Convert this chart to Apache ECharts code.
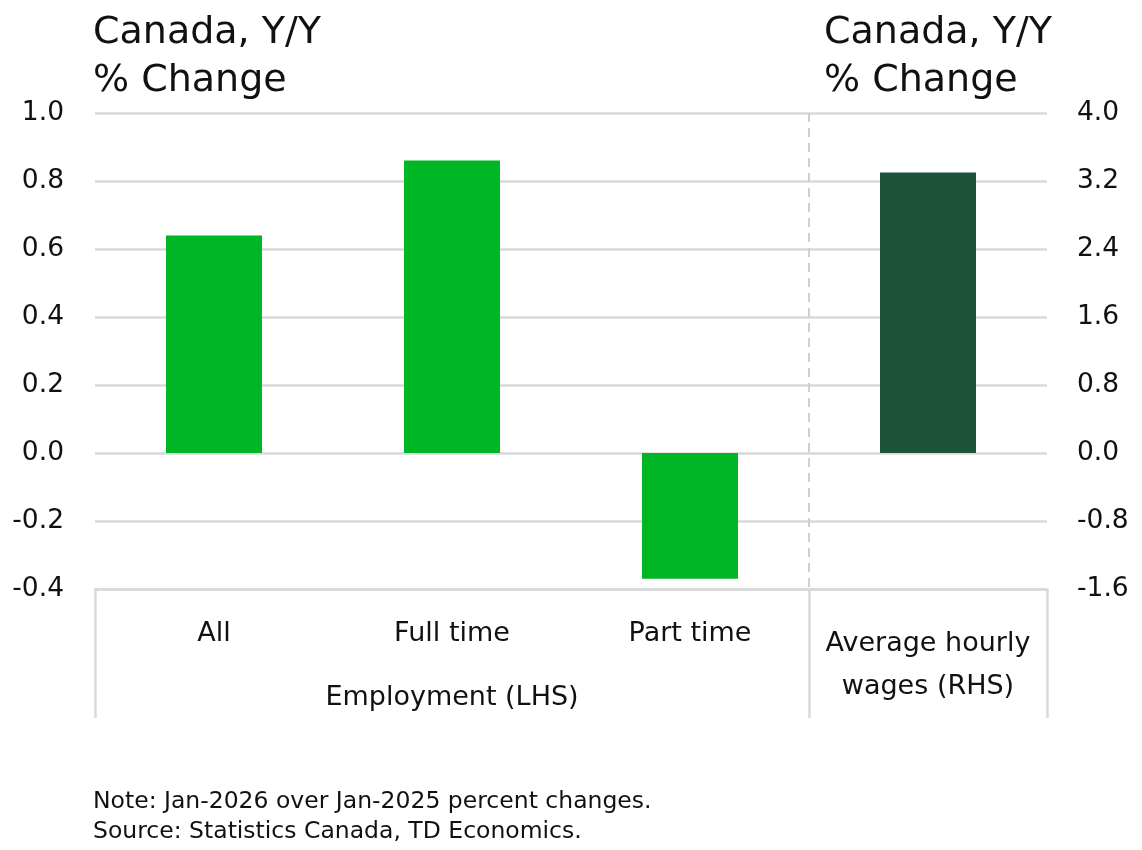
<!DOCTYPE html>
<html>
<head>
<meta charset="utf-8">
<script src="https://cdn.jsdelivr.net/npm/echarts@6/dist/echarts.min.js"></script>
<style>
  html, body { margin: 0; padding: 0; background: #fff; }
  #chart { width: 1142px; height: 850px; }
</style>
</head>
<body>
<div id="chart"></div>
<script>
// categories and values
const categories = ['All', 'Full time', 'Part time', 'Average hourly\nwages (RHS)'];
const groupLabels = ['', 'Employment (LHS)', '', ''];
const employment = [0.64, 0.86, -0.37, '-'];   // LHS, y/y %
const wages = ['-', '-', '-', 3.3];             // RHS, y/y %
const noteLines = ['Note: Jan-2026 over Jan-2025 percent changes.', 'Source: Statistics Canada, TD Economics.'];

const FONT = 'DejaVu Sans';
const GRID = '#d9d9d9';
const TXT = '#111';

let chart = echarts.init(document.getElementById('chart'));

chart.setOption({
    animation: false,
    textStyle: { fontFamily: FONT, color: TXT },
    title: [
        {
            text: 'Canada, Y/Y\n% Change',
            left: 88, top: 4,
            textStyle: { fontFamily: FONT, fontSize: 38, fontWeight: 'normal', color: TXT, lineHeight: 48 }
        },
        {
            text: 'Canada, Y/Y\n% Change',
            left: 819, top: 4,
            textStyle: { fontFamily: FONT, fontSize: 38, fontWeight: 'normal', color: TXT, lineHeight: 48 }
        },
        {
            text: noteLines.join('\n'),
            left: 88, top: 782,
            textStyle: { fontFamily: FONT, fontSize: 23.5, fontWeight: 'normal', color: TXT, lineHeight: 30 }
        }
    ],
    grid: { left: 95, right: 95, top: 113, bottom: 261, containLabel: false },
    xAxis: [
        {
            type: 'category',
            data: categories.map((c, i) => ({
                value: c,
                textStyle: { lineHeight: i < 3 ? 23 : 43 }
            })),
            axisLine: { onZero: false, lineStyle: { color: GRID, width: 2.5 } },
            axisTick: {
                show: true,
                length: 129,
                interval: (i) => i === 0 || i === 3,
                lineStyle: { color: GRID, width: 2.5 }
            },
            axisLabel: {
                interval: 0,
                margin: 33,
                fontSize: 27,
                color: TXT,
                fontFamily: FONT,
                verticalAlign: 'top'
            },
            splitLine: {
                show: true,
                interval: (i) => i === 0 || i === 3,
                lineStyle: { color: ['transparent', '#cfcfcf', 'transparent'], width: 2, type: [9, 6] }
            }
        },
        {
            type: 'category',
            position: 'bottom',
            data: groupLabels,
            axisLine: { show: false, onZero: false },
            axisTick: { show: false },
            splitLine: { show: false },
            axisLabel: {
                interval: 0,
                margin: 96,
                fontSize: 27,
                color: TXT,
                fontFamily: FONT,
                verticalAlign: 'top',
                lineHeight: 26
            }
        }
    ],
    yAxis: [
        {
            type: 'value',
            min: -0.4, max: 1.0, interval: 0.2,
            axisLine: { show: false },
            axisTick: { show: false },
            axisLabel: {
                fontSize: 26.5, color: TXT, fontFamily: FONT, margin: 31,
                formatter: (v) => v.toFixed(1)
            },
            splitLine: { lineStyle: { color: GRID, width: 2.5 } }
        },
        {
            type: 'value',
            min: -1.6, max: 4.0, interval: 0.8,
            axisLine: { show: false },
            axisTick: { show: false },
            axisLabel: {
                fontSize: 26.5, color: TXT, fontFamily: FONT, margin: 30,
                formatter: (v) => v.toFixed(1)
            },
            splitLine: { show: false }
        }
    ],
    series: [
        {
            name: 'Employment (LHS)',
            type: 'bar',
            yAxisIndex: 0,
            data: employment,
            barWidth: 96,
            barGap: '-100%',
            itemStyle: { color: '#00b624' }
        },
        {
            name: 'Average hourly wages (RHS)',
            type: 'bar',
            yAxisIndex: 1,
            data: wages,
            barWidth: 96,
            itemStyle: { color: '#1c533a' }
        }
    ]
});

window.addEventListener('resize', () => chart.resize());
</script>
</body>
</html>
